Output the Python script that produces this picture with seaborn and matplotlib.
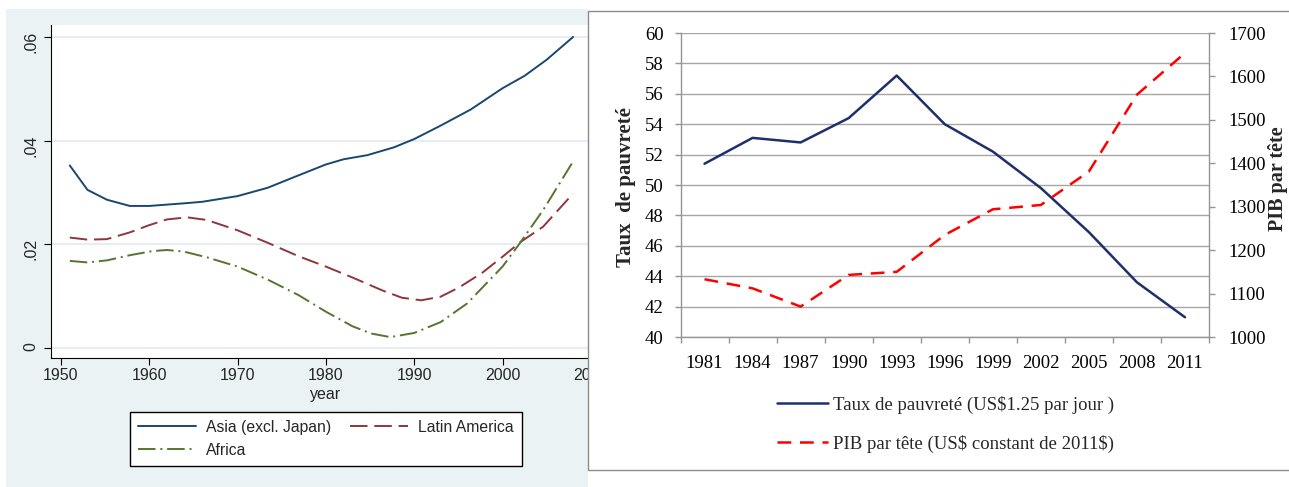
import matplotlib
matplotlib.use("Agg")
import numpy as np
import matplotlib.pyplot as plt
from matplotlib.patches import Rectangle
import seaborn as sns

W, H = 1289, 487

# left panel: smoothed series
asia_years = [1951, 1953, 1955.2, 1957.8, 1960, 1963.9, 1966, 1970, 1973.4, 1976.9, 1980,
              1982, 1984.7, 1987.7, 1990, 1993, 1996.4, 2000, 2002.5, 2005, 2008]
asia_vals = [0.0352, 0.0305, 0.0286, 0.0274, 0.0274, 0.0279, 0.0282, 0.0293, 0.0309, 0.0333, 0.0354,
             0.0364, 0.0372, 0.0387, 0.0403, 0.0429, 0.0460, 0.0501, 0.0525, 0.0556, 0.0600]

latam_years = [1951, 1953, 1955.2, 1957.8, 1960, 1962, 1964.3, 1966.5, 1970, 1973.4, 1976.9, 1980,
               1983, 1986.4, 1988.6, 1990.8, 1993, 1995.1, 1997.7, 2000, 2002, 2004.6, 2008]
latam_vals = [0.0213, 0.0209, 0.0210, 0.0223, 0.0237, 0.0248, 0.0252, 0.0247, 0.0227, 0.0203, 0.0177, 0.0157,
              0.0136, 0.0111, 0.0097, 0.0092, 0.0099, 0.0117, 0.0145, 0.0176, 0.0204, 0.0234, 0.0298]

africa_years = [1951, 1953, 1955.2, 1957.8, 1960.4, 1962, 1963.9, 1966.5, 1970, 1973.4, 1976.9, 1980,
                1983, 1985.1, 1987.3, 1990, 1993, 1996, 2000, 2002, 2004.6, 2008]
africa_vals = [0.0168, 0.0165, 0.0169, 0.0179, 0.0187, 0.0189, 0.0186, 0.0175, 0.0157, 0.0132, 0.0102, 0.0070,
               0.0042, 0.0028, 0.0021, 0.0029, 0.0050, 0.0086, 0.0157, 0.0203, 0.0266, 0.0360]

left_xticks = [1950, 1960, 1970, 1980, 1990, 2000, 2010]
left_yticks = [0, 0.02, 0.04, 0.06]
left_yticklabels = ["0", ".02", ".04", ".06"]
left_names = ["Asia (excl. Japan)", "Latin America", "Africa"]

# right panel
years = ["1981", "1984", "1987", "1990", "1993", "1996", "1999", "2002", "2005", "2008", "2011"]
poverty = [51.4, 53.1, 52.8, 54.4, 57.2, 54.0, 52.2, 49.8, 46.9, 43.6, 41.3]
pib = [1133, 1112, 1070, 1143, 1150, 1235, 1294, 1304, 1381, 1558, 1654]
poverty_label = "Taux de pauvreté (US\\$1.25 par jour )"
pib_label = "PIB par tête (US\\$ constant de 2011\\$)"


def fx(px):
    return px / W


def fy(py):
    return 1 - py / H


sns.set_style("ticks")
plt.rcParams["font.family"] = ["Liberation Sans", "DejaVu Sans"]
serif = ["Liberation Serif", "DejaVu Serif"]

fig = plt.figure(figsize=(W / 100, H / 100), dpi=100)

# ---- left panel (Stata style) ----
fig.add_artist(Rectangle((fx(6), fy(487)), fx(588) - fx(6), fy(9) - fy(487),
                         transform=fig.transFigure, facecolor="#EAF2F3", edgecolor="none", zorder=-1))
ax1 = fig.add_axes([fx(51), fy(358), fx(600) - fx(51), fy(25) - fy(358)])
ax1.set_facecolor("white")

sns.lineplot(x=asia_years, y=asia_vals, ax=ax1, color="#1a476f", lw=1.4, label=left_names[0])
sns.lineplot(x=latam_years, y=latam_vals, ax=ax1, color="#90353b", lw=1.4,
             linestyle=(0, (9, 3.5)), label=left_names[1])
sns.lineplot(x=africa_years, y=africa_vals, ax=ax1, color="#55752f", lw=1.4,
             linestyle=(0, (9, 2.5, 1, 2.5)), label=left_names[2])

ax1.set_xlim(1948.87, 2011.04)
ax1.set_ylim(-0.00193, 0.0623)
ax1.set_xticks(left_xticks)
ax1.set_yticks(left_yticks)
ax1.set_yticklabels(left_yticklabels)
ax1.tick_params(axis="y", labelrotation=90, length=5, width=0.8, pad=4, labelsize=11.5, color="black")
ax1.tick_params(axis="x", length=5, width=0.8, pad=2, labelsize=11.5, color="black")
ax1.yaxis.grid(True, color="#E6EEF1", lw=1.6)
ax1.xaxis.grid(False)
for s in ["top", "right"]:
    ax1.spines[s].set_visible(False)
for s in ["left", "bottom"]:
    ax1.spines[s].set_color("black")
    ax1.spines[s].set_linewidth(0.8)
ax1.set_xlabel("year", fontsize=11.5, labelpad=3)
ax1.set_ylabel("")

hmap = dict(zip(*ax1.get_legend_handles_labels()[::-1]))
order = [left_names[0], left_names[2], left_names[1]]
leg1 = ax1.legend([hmap[n] for n in order], order, ncol=2, loc="upper left",
                  bbox_to_anchor=(fx(130), fy(412)), bbox_transform=fig.transFigure,
                  frameon=True, fancybox=False, edgecolor="black", framealpha=1, fontsize=11.3,
                  handlelength=3.7, handletextpad=0.65, columnspacing=1.2, labelspacing=0.5,
                  borderpad=0.5, borderaxespad=0)
leg1.get_frame().set_linewidth(1.0)

# ---- right panel (Excel style) ----
fig.add_artist(Rectangle((fx(588), fy(470)), fx(1300) - fx(588), fy(11) - fy(470),
                         transform=fig.transFigure, facecolor="white", edgecolor="#8C8C8C",
                         lw=1.0, zorder=1))
ax2 = fig.add_axes([fx(680.5), fy(337), fx(1209) - fx(680.5), fy(33) - fy(337)])
ax2.set_zorder(2)
ax2.patch.set_visible(False)
ax3 = ax2.twinx()
ax3.set_zorder(3)
ax3.patch.set_visible(False)

sns.lineplot(x=years, y=poverty, ax=ax2, color="#1F2F6B", lw=1.8, label=poverty_label)
sns.lineplot(x=years, y=pib, ax=ax3, color="#FF0000", lw=1.8,
             linestyle=(0, (5.5, 3.5)), label=pib_label)

gray = "#959595"
ax2.set_xlim(-0.5, 10.5)
ax2.set_ylim(40, 60)
ax3.set_ylim(1000, 1700)
ax2.set_yticks(range(40, 61, 2))
ax3.set_yticks(range(1000, 1701, 100))
ax2.set_xticks(np.arange(-0.5, 11, 1), minor=True)
ax2.tick_params(axis="x", which="major", length=0, pad=13)
ax2.tick_params(axis="x", which="minor", length=4.3, width=1.0, color=gray)
ax2.tick_params(axis="y", length=4.3, width=1.0, color=gray, pad=8)
ax3.tick_params(axis="y", length=4.3, width=1.0, color=gray, pad=9.4)
ax2.yaxis.grid(True, color="#A6A6A6", lw=1.0)
ax2.xaxis.grid(False)
ax3.grid(False)
ax2.set_xlabel("")
ax2.set_ylabel("")
ax3.set_ylabel("")
for a in (ax2, ax3):
    for s in a.spines.values():
        s.set_visible(False)
ax2.spines["left"].set_visible(True)
ax2.spines["bottom"].set_visible(True)
ax3.spines["right"].set_visible(True)
for s in (ax2.spines["left"], ax2.spines["bottom"], ax3.spines["right"]):
    s.set_color(gray)
    s.set_linewidth(1.0)

for lab in ax2.get_xticklabels() + ax2.get_yticklabels() + ax3.get_yticklabels():
    lab.set_fontfamily(serif)
    lab.set_fontsize(13.5)
    lab.set_color("black")

ax2.get_legend().remove()
h2, l2 = ax2.get_legend_handles_labels()
h3, l3 = ax3.get_legend_handles_labels()
ax3.legend(h2 + h3, l2 + l3, loc="upper left", bbox_to_anchor=(fx(777), fy(396)),
           bbox_transform=fig.transFigure, frameon=False, prop={"family": serif, "size": 13.5},
           handlelength=2.7, handletextpad=0.3, labelspacing=1.1, borderpad=0, borderaxespad=0)

fig.text(fx(626), fy(187), "Taux  de pauvreté", rotation=90, ha="center", va="center",
         fontfamily=serif, fontweight="bold", fontsize=15, zorder=5)
fig.text(fx(1278), fy(179), "PIB par tête", rotation=90, ha="center", va="center",
         fontfamily=serif, fontweight="bold", fontsize=14.5, zorder=5)

fig.savefig("out.png", dpi=100)
